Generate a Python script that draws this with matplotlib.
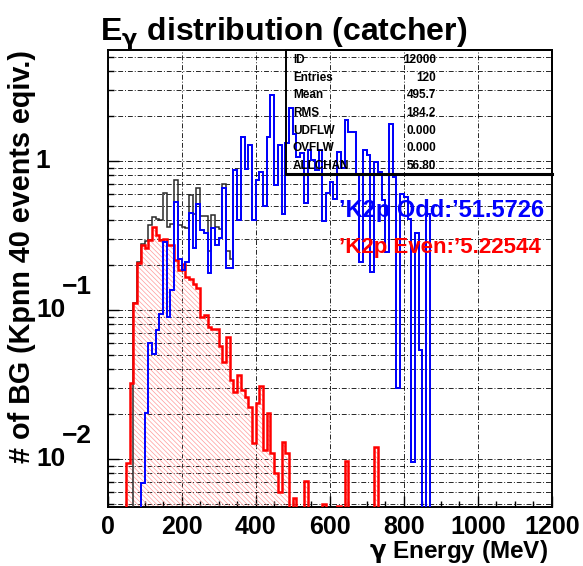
import numpy as np
import matplotlib.pyplot as plt
from matplotlib.patches import Rectangle
from matplotlib.ticker import MultipleLocator, LogLocator, NullFormatter

plt.rcParams['font.family'] = ['Liberation Sans', 'DejaVu Sans']
plt.rcParams['font.weight'] = 'bold'
plt.rcParams['mathtext.fontset'] = 'custom'
plt.rcParams['mathtext.rm'] = 'Liberation Sans'
plt.rcParams['mathtext.bf'] = 'Liberation Sans:bold'
plt.rcParams['mathtext.sf'] = 'DejaVu Sans'
plt.rcParams['hatch.linewidth'] = 0.5
plt.rcParams['hatch.color'] = '#ff9a9a'

# 120 bins of 10 MeV, 0 - 1200 MeV
edges = np.linspace(0, 1200, 121)

# K2p even (red, hatched)
even = [0, 0, 0, 0, 0, 0.0094, 0.0325, 0.112, 0.208, 0.273,
        0.259, 0.297, 0.362, 0.32, 0.296, 0.30, 0.273, 0.273, 0.216, 0.185,
        0.204, 0.167, 0.162, 0.15, 0.14, 0.09, 0.093, 0.077, 0.075, 0.074,
        0.057, 0.045, 0.066, 0.034, 0.028, 0.0366, 0.029, 0.026, 0.0223, 0.0128,
        0.0236, 0.031, 0.0115, 0.0203, 0.011, 0.008, 0.006, 0.013, 0.011, 0,
        0.0055, 0, 0, 0.0071, 0, 0, 0, 0, 0.005, 0,
        0, 0, 0.0048, 0, 0.0097, 0, 0, 0, 0, 0,
        0, 0, 0.012, 0, 0, 0, 0, 0, 0, 0,
        0, 0, 0, 0, 0, 0, 0, 0, 0, 0,
        0, 0, 0, 0, 0, 0, 0, 0, 0, 0,
        0, 0, 0, 0, 0, 0, 0, 0, 0, 0,
        0, 0, 0, 0, 0, 0, 0, 0, 0, 0]

# K2p odd (blue)
odd = [0, 0, 0, 0, 0, 0, 0, 0, 0, 0.0069,
       0.0203, 0.0597, 0.051, 0.073, 0.094, 0.288, 0.09, 0.136, 0.53, 0.22,
       0.185, 0.21, 0.446, 0.26, 0.514, 0.344, 0.327, 0.176, 0.353, 0.273,
       0.303, 0.656, 0.19, 0.19, 0.87, 0.40, 1.46, 0.89, 1.28, 0.40,
       0.746, 0.848, 0.50, 1.46, 2.77, 0.69, 1.28, 0.44, 1.33, 2.26,
       1.53, 1.07, 1.14, 0.52, 1.185, 1.015, 0.87, 1.185, 0.397, 0.607,
       0.726, 0.56, 1.155, 0.9, 1.885, 1.57, 1.57, 0.818, 0.21, 1.185,
       1.1, 0.18, 0.99, 0.85, 0.547, 0.246, 1.77, 0.785, 0.030, 0.6,
       0.576, 0.41, 0.0096, 0.327, 0.054, 0, 0.44, 0, 0, 0,
       0, 0, 0, 0, 0, 0, 0, 0, 0, 0,
       0, 0, 0, 0, 0, 0, 0, 0, 0, 0,
       0, 0, 0, 0, 0, 0, 0, 0, 0, 0]

# all BG (black)
total = [0, 0, 0, 0, 0, 0, 0, 0.112, 0.21, 0.277,
         0.29, 0.37, 0.419, 0.406, 0.40, 0.607, 0.363, 0.38, 0.745, 0.372,
         0.363, 0.355, 0.59, 0.444, 0.66, 0.43, 0.426, 0.25, 0.435, 0.36,
         0.35, 0.70, 0.25, 0.22, 0.87, 0.40, 1.46, 0.89, 1.28, 0.40,
         0.746, 0.848, 0.50, 1.46, 2.77, 0.69, 1.28, 0.44, 1.33, 2.26,
         1.53, 1.07, 1.14, 0.52, 1.185, 1.015, 0.87, 1.185, 0.397, 0.607,
         0.726, 0.56, 1.155, 0.9, 1.885, 1.57, 1.57, 0.818, 0.21, 1.185,
         1.1, 0.18, 0.99, 0.85, 0.547, 0.246, 1.77, 0.785, 0.030, 0.6,
         0.576, 0.41, 0.0096, 0.327, 0.054, 0, 0.44, 0, 0, 0,
         0, 0, 0, 0, 0, 0, 0, 0, 0, 0,
         0, 0, 0, 0, 0, 0, 0, 0, 0, 0,
         0, 0, 0, 0, 0, 0, 0, 0, 0, 0]

stat_names = ['ID', 'Entries', 'Mean', 'RMS', 'UDFLW', 'OVFLW', 'ALLCHAN']
stat_values = ['12000', '120', '495.7', '184.2', '0.000', '0.000', '56.80']

odd_label = '\u2019K2p Odd:\u201951.5726'
even_label = '\u2019K2p Even:\u20195.22544'

ymin, ymax = 0.00476, 5.56
floor = 1e-4  # empty bins drawn below the frame, like ROOT


def clip(v):
    v = np.asarray(v, dtype=float)
    return np.where(v > 0, v, floor)


fig = plt.figure(figsize=(5.83, 5.66), dpi=100)
ax = fig.add_axes([0.1844, 0.1042, 0.7624, 0.8074])
ax.set_yscale('log')
ax.set_xlim(0, 1200)
ax.set_ylim(ymin, ymax)

gridstyle = dict(color='black', linestyle=(0, (5, 2, 1, 2)), linewidth=0.7, alpha=0.85)
ax.grid(True, which='major', axis='x', **gridstyle)
ax.grid(True, which='both', axis='y', **gridstyle)
ax.set_axisbelow(True)

ax.stairs(clip(even), edges, baseline=floor, fill=True, facecolor='none',
          edgecolor='#ff9a9a', hatch='\\' * 7, linewidth=0, zorder=2)
ax.stairs(clip(total), edges, baseline=None, color='#2a2a2a', linewidth=1.1, zorder=3)
ax.stairs(clip(even), edges, baseline=None, color='#ff0000', linewidth=1.8, zorder=4)
ax.stairs(clip(odd), edges, baseline=None, color='#0000ff', linewidth=1.4, zorder=5)

ax.xaxis.set_major_locator(MultipleLocator(200))
ax.xaxis.set_minor_locator(MultipleLocator(50))
ax.yaxis.set_major_locator(LogLocator(base=10))
ax.yaxis.set_minor_locator(LogLocator(base=10, subs=np.arange(2, 10)))
ax.yaxis.set_major_formatter(NullFormatter())
ax.yaxis.set_minor_formatter(NullFormatter())
ax.tick_params(which='both', direction='in', width=1)
ax.tick_params(which='major', length=8)
ax.tick_params(which='minor', length=4)
ax.tick_params(axis='x', labelsize=18, pad=6)
for lab in ax.get_xticklabels():
    lab.set_fontweight('bold')
for s in ax.spines.values():
    s.set_linewidth(1.4)

# ROOT style log labels
ytr = ax.get_yaxis_transform()
ax.text(-0.145, 1, '1', transform=ytr, ha='center', va='center', fontsize=19)
for dec, exp in [(0.1, '\u22121'), (0.01, '\u22122')]:
    ax.text(-0.128, dec, '10', transform=ytr, ha='center', va='center', fontsize=19)
    ax.text(-0.068, dec * 1.43, exp, transform=ytr, ha='center', va='center', fontsize=19)

# stats box
ax.add_patch(Rectangle((0.401, 0.728), 0.599, 0.272, transform=ax.transAxes,
                       facecolor='none', edgecolor='black', linewidth=1.4,
                       zorder=6, clip_on=False))
ax.plot([0.401, 1.0], [0.728, 0.728], transform=ax.transAxes, color='black',
        linewidth=2.2, zorder=6, clip_on=False)
for i, (n, v) in enumerate(zip(stat_names, stat_values)):
    yy = 0.978 - i * 0.0386
    ax.text(0.417, yy, n, transform=ax.transAxes, ha='left', va='center', fontsize=8.5, zorder=7)
    ax.text(0.739, yy, v, transform=ax.transAxes, ha='right', va='center', fontsize=8.5, zorder=7)

ax.text(0.521, 0.648, odd_label, transform=ax.transAxes, color='#0000ff',
        fontsize=17, ha='left', va='center', zorder=7)
ax.text(0.521, 0.567, even_label, transform=ax.transAxes, color='#ff0000',
        fontsize=16, ha='left', va='center', zorder=7)

fig.text(0.172, 1 - 40 / 566, r'$\mathbf{E}_{\mathsf{\gamma}}$ distribution (catcher)',
         fontsize=23, ha='left', va='baseline')
fig.text(548 / 583, 1 - 558 / 566, r'$\mathsf{\gamma}$ Energy (MeV)', fontsize=17.5,
         ha='right', va='baseline')
fig.text(22 / 583, 1 - 50 / 566, '# of BG (Kpnn 40 events eqiv.)', fontsize=20.7,
         rotation=90, ha='center', va='top')

fig.savefig('out.png', dpi=100)
